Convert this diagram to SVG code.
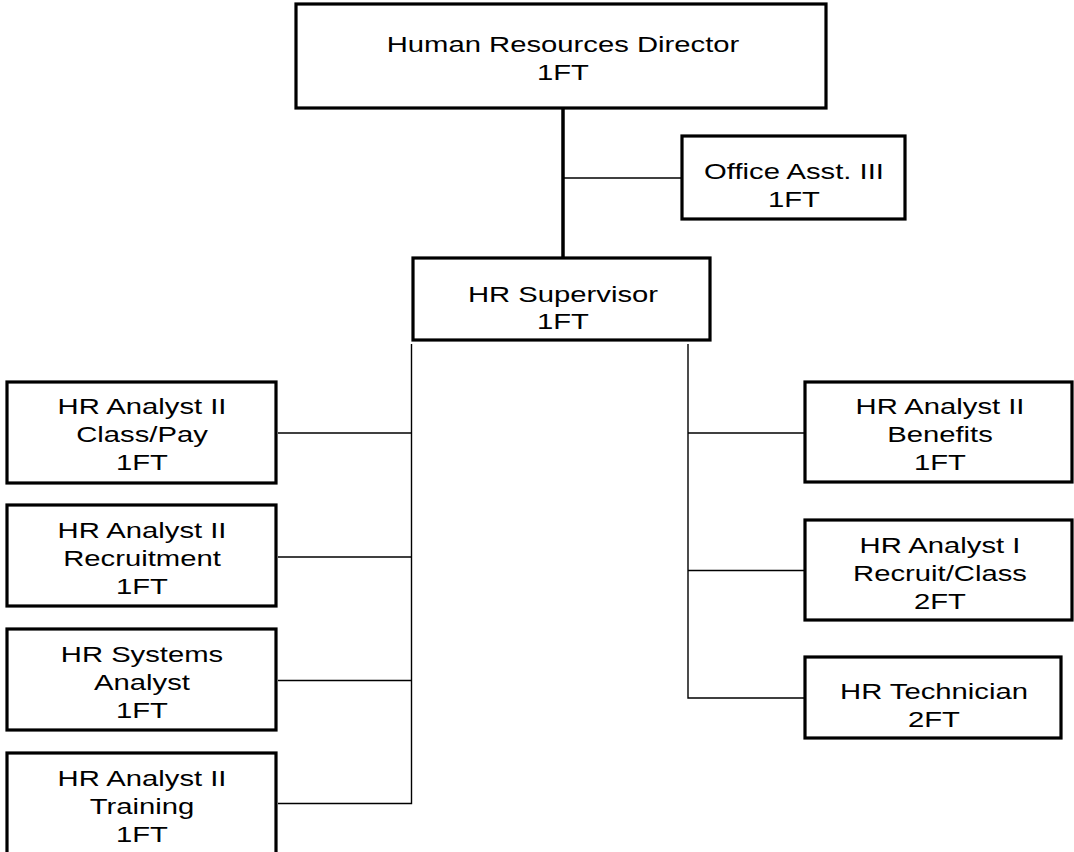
<svg xmlns="http://www.w3.org/2000/svg" width="1074" height="852" viewBox="0 0 1074 852">
<style>
.box{fill:#fff;stroke:#000;stroke-width:3.2}
.t{font-family:"Liberation Sans",Arial,sans-serif;font-size:22.5px;fill:#000;text-anchor:middle}
.c{stroke:#000;stroke-width:1.4;fill:none}
.cm{stroke:#000;stroke-width:3.5;fill:none}
</style>
<rect width="1074" height="852" fill="#fff"/>
<g id="connectors">
<line class="cm" x1="563" y1="108" x2="563" y2="258"/>
<line class="c" x1="563" y1="178" x2="682" y2="178"/>
<polyline class="c" points="411.5,344 411.5,803.5 278,803.5"/>
<line class="c" x1="278" y1="433" x2="411.5" y2="433"/>
<line class="c" x1="278" y1="557" x2="411.5" y2="557"/>
<line class="c" x1="278" y1="680.5" x2="411.5" y2="680.5"/>
<polyline class="c" points="688,344 688,698 805,698"/>
<line class="c" x1="688" y1="433" x2="805" y2="433"/>
<line class="c" x1="688" y1="570.5" x2="805" y2="570.5"/>
</g>
<g id="director">
<rect class="box" x="296" y="4" width="530" height="104"/>
<g transform="translate(563 0) scale(1.3 1)"><text class="t" x="0" y="52">Human Resources Director</text><text class="t" x="0" y="80">1FT</text></g>
</g>
<g id="office-asst">
<rect class="box" x="682" y="136" width="223" height="83"/>
<g transform="translate(794 0) scale(1.3 1)"><text class="t" x="0" y="179">Office Asst. III</text><text class="t" x="0" y="207">1FT</text></g>
</g>
<g id="supervisor">
<rect class="box" x="413" y="258" width="297" height="82"/>
<g transform="translate(563 0) scale(1.3 1)"><text class="t" x="0" y="302">HR Supervisor</text><text class="t" x="0" y="329">1FT</text></g>
</g>
<g id="analyst-classpay">
<rect class="box" x="7" y="382" width="269" height="101"/>
<g transform="translate(142 0) scale(1.3 1)"><text class="t" x="0" y="414">HR Analyst II</text><text class="t" x="0" y="442">Class/Pay</text><text class="t" x="0" y="470">1FT</text></g>
</g>
<g id="analyst-recruitment">
<rect class="box" x="7" y="505" width="269" height="101"/>
<g transform="translate(142 0) scale(1.3 1)"><text class="t" x="0" y="538">HR Analyst II</text><text class="t" x="0" y="566">Recruitment</text><text class="t" x="0" y="594">1FT</text></g>
</g>
<g id="systems-analyst">
<rect class="box" x="7" y="629" width="269" height="101"/>
<g transform="translate(142 0) scale(1.3 1)"><text class="t" x="0" y="662">HR Systems</text><text class="t" x="0" y="690">Analyst</text><text class="t" x="0" y="718">1FT</text></g>
</g>
<g id="analyst-training">
<rect class="box" x="7" y="753" width="269" height="104"/>
<g transform="translate(142 0) scale(1.3 1)"><text class="t" x="0" y="786">HR Analyst II</text><text class="t" x="0" y="814">Training</text><text class="t" x="0" y="842">1FT</text></g>
</g>
<g id="analyst-benefits">
<rect class="box" x="805" y="382" width="267" height="100"/>
<g transform="translate(940 0) scale(1.3 1)"><text class="t" x="0" y="414">HR Analyst II</text><text class="t" x="0" y="442">Benefits</text><text class="t" x="0" y="470">1FT</text></g>
</g>
<g id="analyst-recruit-class">
<rect class="box" x="805" y="520" width="267" height="100"/>
<g transform="translate(940 0) scale(1.3 1)"><text class="t" x="0" y="553">HR Analyst I</text><text class="t" x="0" y="581">Recruit/Class</text><text class="t" x="0" y="609">2FT</text></g>
</g>
<g id="technician">
<rect class="box" x="805" y="657" width="256" height="81"/>
<g transform="translate(934 0) scale(1.3 1)"><text class="t" x="0" y="699">HR Technician</text><text class="t" x="0" y="727">2FT</text></g>
</g>
</svg>
